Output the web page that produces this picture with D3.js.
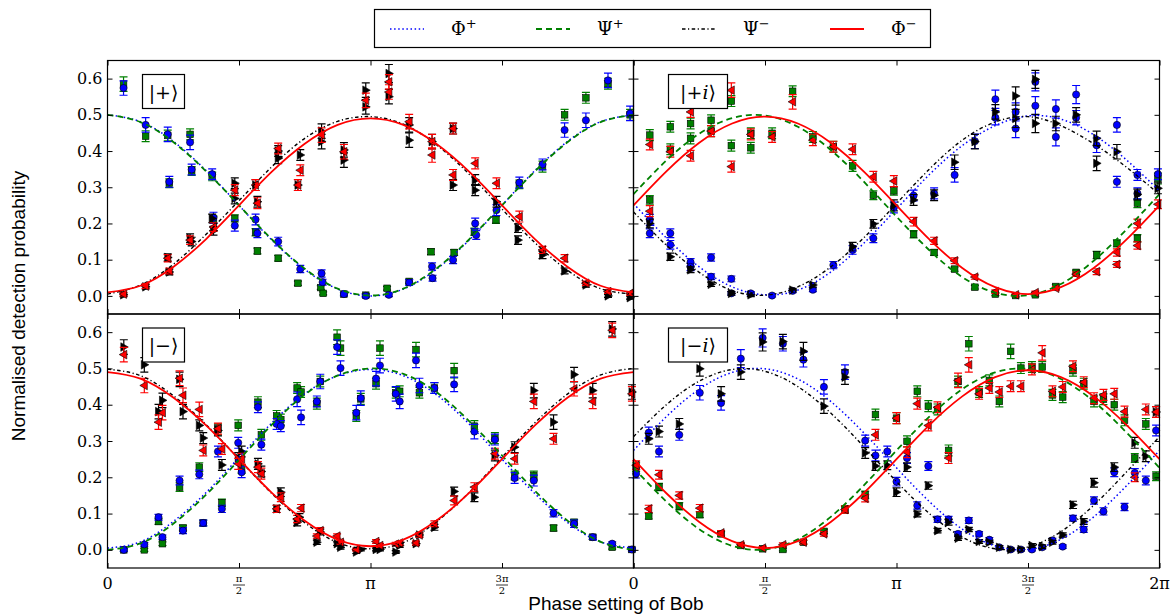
<!DOCTYPE html>
<html>
<head>
<meta charset="utf-8">
<script src="https://cdn.jsdelivr.net/npm/d3@7"></script>
<style>
  body { margin: 0; background: #fff; }
  text { fill: #000; }
</style>
</head>
<body>
<svg id="chart" width="1173" height="614"></svg>
<script>
"use strict";

//
/* Data (phase in units of pi, probability, error): */
//

var yTicks = [0.0, 0.1, 0.2, 0.3, 0.4, 0.5, 0.6];
var xTicks = [0, 0.5, 1, 1.5, 2];
var xTickLabels = ["0", "π/2", "π", "3π/2", "2π"];
var curvePhases = [0, 0.125, 0.25, 0.375, 0.5, 0.625, 0.75, 0.875, 1, 1.125, 1.25, 1.375, 1.5, 1.625, 1.75, 1.875, 2];

var seriesNames = ["Φ+", "Ψ+", "Ψ−", "Φ−"];
var panelStates = ["+", "+i", "−", "−i"];

// |+> panel
var plusPhiP = [[0.061,0.574,0.02],[0.145,0.472,0.02],[0.229,0.446,0.02],[0.235,0.315,0.015],[0.314,0.424,0.02],[0.320,0.349,0.015],[0.398,0.336,0.015],[0.403,0.216,0.015],[0.484,0.194,0.015],[0.563,0.211,0.015],[0.570,0.173,0.012],[0.649,0.150,0.012],[0.733,0.074,0.01],[0.814,0.062,0.01],[0.818,0.038,0.008],[0.899,0.005,0.005],[0.982,0.0,0.004],[1.07,0.003,0.005],[1.147,0.037,0.008],[1.234,0.081,0.01],[1.236,0.049,0.008],[1.314,0.099,0.01],[1.398,0.200,0.015],[1.402,0.168,0.012],[1.479,0.237,0.015],[1.566,0.313,0.015],[1.654,0.363,0.015],[1.738,0.458,0.02],[1.819,0.485,0.02],[1.903,0.595,0.02],[1.987,0.504,0.02]];
var plusPsiP = [[0.061,0.585,0.02],[0.145,0.441,0.015],[0.229,0.443,0.015],[0.235,0.311,0.012],[0.314,0.446,0.015],[0.320,0.345,0.012],[0.398,0.33,0.012],[0.403,0.21,0.01],[0.484,0.214,0.01],[0.563,0.176,0.01],[0.570,0.124,0.008],[0.649,0.104,0.008],[0.724,0.035,0.006],[0.811,0.023,0.005],[0.82,0.007,0.004],[0.899,0.005,0.004],[0.982,0.002,0.004],[1.063,0.021,0.005],[1.147,0.040,0.006],[1.230,0.122,0.008],[1.318,0.12,0.008],[1.395,0.177,0.01],[1.477,0.21,0.01],[1.566,0.308,0.012],[1.654,0.357,0.015],[1.738,0.5,0.015],[1.819,0.547,0.015],[1.903,0.586,0.015],[1.987,0.5,0.015]];
var plusPsiM = [[0.061,0.003,0.005],[0.145,0.025,0.006],[0.229,0.106,0.01],[0.235,0.066,0.008],[0.314,0.159,0.012],[0.320,0.150,0.012],[0.398,0.214,0.012],[0.403,0.18,0.012],[0.484,0.311,0.015],[0.484,0.269,0.015],[0.563,0.306,0.015],[0.570,0.26,0.015],[0.649,0.4,0.015],[0.649,0.38,0.015],[0.733,0.389,0.015],[0.724,0.306,0.015],[0.814,0.455,0.02],[0.814,0.426,0.02],[0.899,0.403,0.02],[0.899,0.375,0.02],[0.982,0.568,0.02],[0.982,0.522,0.02],[1.07,0.614,0.025],[1.07,0.55,0.02],[1.147,0.472,0.02],[1.147,0.43,0.02],[1.234,0.426,0.02],[1.314,0.462,0.015],[1.314,0.306,0.015],[1.398,0.292,0.015],[1.398,0.32,0.015],[1.479,0.26,0.015],[1.561,0.154,0.012],[1.561,0.187,0.012],[1.654,0.113,0.01],[1.738,0.069,0.008],[1.819,0.03,0.006],[1.903,0.0,0.004],[1.987,-0.005,0.004]];
var plusPhiM = [[0.061,0.005,0.005],[0.145,0.027,0.006],[0.229,0.104,0.01],[0.235,0.069,0.008],[0.314,0.154,0.012],[0.403,0.19,0.012],[0.484,0.292,0.015],[0.563,0.306,0.015],[0.570,0.256,0.015],[0.649,0.407,0.015],[0.733,0.347,0.015],[0.724,0.306,0.015],[0.814,0.444,0.02],[0.899,0.398,0.02],[0.982,0.54,0.02],[1.07,0.591,0.02],[1.07,0.563,0.02],[1.147,0.481,0.02],[1.234,0.389,0.02],[1.234,0.426,0.02],[1.314,0.462,0.015],[1.314,0.334,0.015],[1.398,0.366,0.015],[1.479,0.311,0.015],[1.566,0.219,0.015],[1.654,0.127,0.01],[1.738,0.104,0.01],[1.819,0.035,0.006],[1.903,0.012,0.005],[1.987,0.007,0.005]];

// |+i> panel
var plusIPhiP = [[0.062,0.21,0.015],[0.062,0.173,0.012],[0.140,0.173,0.012],[0.140,0.141,0.012],[0.217,0.093,0.01],[0.217,0.08,0.01],[0.295,0.106,0.01],[0.295,0.053,0.008],[0.372,0.047,0.008],[0.372,0.007,0.005],[0.446,0.007,0.005],[0.527,0.001,0.004],[0.605,0.014,0.005],[0.682,0.017,0.005],[0.760,0.085,0.01],[0.833,0.127,0.012],[0.912,0.159,0.012],[0.990,0.244,0.015],[1.065,0.277,0.015],[1.143,0.283,0.015],[1.221,0.334,0.02],[1.298,0.427,0.02],[1.376,0.543,0.025],[1.376,0.492,0.02],[1.453,0.508,0.025],[1.453,0.462,0.025],[1.528,0.591,0.025],[1.528,0.525,0.025],[1.606,0.516,0.025],[1.606,0.439,0.025],[1.683,0.556,0.025],[1.683,0.492,0.02],[1.761,0.416,0.02],[1.838,0.472,0.02],[1.838,0.315,0.015],[1.916,0.334,0.015],[1.916,0.283,0.015],[1.994,0.336,0.015]];
var plusIPsiP = [[0.062,0.444,0.015],[0.062,0.265,0.012],[0.140,0.467,0.015],[0.140,0.405,0.015],[0.217,0.476,0.015],[0.217,0.435,0.015],[0.295,0.485,0.015],[0.295,0.455,0.015],[0.372,0.538,0.015],[0.372,0.415,0.015],[0.446,0.449,0.015],[0.446,0.409,0.015],[0.527,0.449,0.015],[0.605,0.565,0.015],[0.682,0.439,0.015],[0.760,0.412,0.015],[0.833,0.359,0.015],[0.912,0.278,0.012],[0.990,0.29,0.012],[1.065,0.17,0.01],[1.143,0.12,0.008],[1.221,0.074,0.006],[1.298,0.024,0.005],[1.376,0.005,0.004],[1.453,0.001,0.004],[1.528,0.003,0.004],[1.606,0.026,0.005],[1.683,0.065,0.006],[1.761,0.113,0.01],[1.838,0.145,0.01],[1.916,0.256,0.012],[1.916,0.159,0.01],[1.994,0.324,0.015]];
var plusIPsiM = [[0.062,0.2,0.012],[0.140,0.108,0.01],[0.217,0.072,0.008],[0.295,0.032,0.006],[0.372,0.007,0.005],[0.446,0.003,0.005],[0.605,0.016,0.005],[0.682,0.03,0.006],[0.833,0.136,0.012],[0.912,0.199,0.012],[0.990,0.25,0.015],[1.065,0.265,0.015],[1.143,0.278,0.015],[1.221,0.369,0.02],[1.298,0.426,0.02],[1.376,0.508,0.02],[1.453,0.552,0.025],[1.453,0.49,0.025],[1.528,0.598,0.025],[1.528,0.476,0.025],[1.606,0.476,0.02],[1.683,0.5,0.02],[1.761,0.366,0.02],[1.761,0.435,0.02],[1.838,0.398,0.02],[1.916,0.28,0.015],[1.994,0.297,0.015]];
var plusIPhiM = [[0.062,0.418,0.015],[0.062,0.234,0.015],[0.140,0.398,0.015],[0.217,0.508,0.015],[0.217,0.387,0.015],[0.295,0.455,0.015],[0.372,0.568,0.02],[0.372,0.357,0.015],[0.446,0.446,0.015],[0.527,0.439,0.015],[0.605,0.536,0.02],[0.682,0.43,0.015],[0.760,0.412,0.015],[0.833,0.405,0.015],[0.912,0.329,0.015],[0.990,0.317,0.015],[1.065,0.205,0.012],[1.143,0.152,0.01],[1.221,0.097,0.008],[1.298,0.052,0.006],[1.376,0.012,0.005],[1.453,0.003,0.004],[1.528,0.009,0.004],[1.606,0.021,0.005],[1.683,0.06,0.006],[1.761,0.067,0.008],[1.838,0.087,0.008],[1.838,0.12,0.01],[1.916,0.2,0.012],[1.916,0.139,0.01],[1.994,0.253,0.012]];

// |-> panel
var minusPhiP = [[0.062,0.0,0.004],[0.140,0.015,0.005],[0.194,0.09,0.008],[0.209,0.035,0.006],[0.274,0.191,0.012],[0.287,0.053,0.008],[0.349,0.208,0.012],[0.364,0.074,0.008],[0.420,0.271,0.015],[0.435,0.113,0.01],[0.497,0.295,0.015],[0.510,0.214,0.015],[0.572,0.393,0.015],[0.585,0.29,0.015],[0.643,0.347,0.015],[0.659,0.341,0.015],[0.721,0.415,0.02],[0.736,0.365,0.02],[0.796,0.409,0.015],[0.809,0.464,0.02],[0.873,0.559,0.02],[0.886,0.501,0.02],[0.946,0.378,0.02],[0.963,0.418,0.02],[1.021,0.472,0.02],[1.036,0.508,0.02],[1.096,0.43,0.02],[1.111,0.409,0.02],[1.173,0.522,0.02],[1.186,0.453,0.02],[1.243,0.446,0.015],[1.318,0.456,0.02],[1.395,0.326,0.02],[1.473,0.304,0.015],[1.548,0.198,0.015],[1.621,0.191,0.015],[1.696,0.101,0.01],[1.774,0.072,0.01],[1.845,0.035,0.006],[1.919,0.017,0.005],[1.994,0.001,0.004]];
var minusPsiP = [[0.062,0.0,0.004],[0.140,0.0,0.004],[0.194,0.078,0.008],[0.209,0.017,0.005],[0.274,0.173,0.012],[0.287,0.06,0.008],[0.349,0.228,0.012],[0.364,0.074,0.008],[0.420,0.332,0.015],[0.435,0.13,0.01],[0.497,0.343,0.015],[0.510,0.223,0.012],[0.572,0.407,0.015],[0.585,0.317,0.015],[0.643,0.369,0.015],[0.659,0.359,0.015],[0.721,0.446,0.015],[0.736,0.435,0.015],[0.796,0.403,0.015],[0.809,0.464,0.015],[0.873,0.586,0.02],[0.886,0.556,0.02],[0.946,0.369,0.015],[0.963,0.416,0.015],[1.021,0.458,0.015],[1.036,0.556,0.02],[1.096,0.433,0.015],[1.111,0.437,0.015],[1.173,0.552,0.02],[1.186,0.433,0.015],[1.243,0.446,0.015],[1.318,0.494,0.02],[1.395,0.341,0.015],[1.473,0.308,0.015],[1.548,0.205,0.012],[1.621,0.205,0.012],[1.696,0.06,0.008],[1.774,0.076,0.008],[1.845,0.035,0.006],[1.919,0.007,0.005],[1.994,0.001,0.004]];
var minusPsiM = [[0.062,0.559,0.02],[0.140,0.51,0.02],[0.194,0.381,0.02],[0.209,0.412,0.02],[0.274,0.47,0.02],[0.287,0.381,0.02],[0.349,0.343,0.015],[0.364,0.308,0.015],[0.420,0.329,0.015],[0.435,0.234,0.015],[0.497,0.253,0.015],[0.510,0.271,0.015],[0.572,0.237,0.015],[0.585,0.216,0.015],[0.643,0.113,0.01],[0.659,0.159,0.012],[0.721,0.076,0.01],[0.730,0.09,0.01],[0.796,0.021,0.006],[0.809,0.049,0.008],[0.873,0.017,0.005],[0.886,0.007,0.005],[0.946,-0.006,0.004],[0.963,0.001,0.004],[1.021,0.001,0.004],[1.036,0.001,0.004],[1.096,-0.006,0.004],[1.111,0.012,0.005],[1.173,0.017,0.005],[1.186,0.041,0.006],[1.243,0.062,0.008],[1.318,0.161,0.012],[1.395,0.145,0.012],[1.473,0.26,0.015],[1.548,0.283,0.015],[1.621,0.439,0.02],[1.696,0.352,0.02],[1.774,0.483,0.02],[1.845,0.439,0.02],[1.919,0.609,0.02],[1.994,0.435,0.02]];
var minusPhiM = [[0.062,0.538,0.02],[0.140,0.453,0.02],[0.194,0.352,0.02],[0.209,0.378,0.02],[0.274,0.473,0.02],[0.287,0.426,0.02],[0.349,0.387,0.02],[0.364,0.274,0.015],[0.420,0.334,0.015],[0.435,0.278,0.015],[0.497,0.237,0.015],[0.510,0.251,0.015],[0.572,0.228,0.015],[0.585,0.21,0.015],[0.643,0.113,0.01],[0.659,0.145,0.012],[0.721,0.085,0.01],[0.736,0.115,0.01],[0.796,0.038,0.006],[0.809,0.053,0.008],[0.873,0.038,0.006],[0.886,0.021,0.005],[0.946,0.001,0.004],[1.021,0.023,0.005],[1.036,0.012,0.005],[1.096,0.016,0.005],[1.111,0.019,0.005],[1.173,0.019,0.005],[1.186,0.041,0.006],[1.243,0.072,0.008],[1.318,0.136,0.012],[1.395,0.173,0.012],[1.473,0.265,0.015],[1.548,0.251,0.015],[1.621,0.409,0.02],[1.696,0.306,0.015],[1.774,0.444,0.02],[1.845,0.409,0.02],[1.919,0.605,0.02],[1.994,0.43,0.02]];

// |-i> panel
var minusIPhiP = [[0.010,0.21,0.012],[0.058,0.323,0.015],[0.097,0.271,0.015],[0.174,0.317,0.015],[0.252,0.433,0.02],[0.333,0.405,0.02],[0.408,0.527,0.025],[0.491,0.584,0.025],[0.568,0.568,0.02],[0.646,0.524,0.02],[0.724,0.449,0.02],[0.804,0.49,0.02],[0.881,0.301,0.015],[0.920,0.26,0.015],[0.965,0.271,0.015],[1.0,0.188,0.012],[1.040,0.253,0.015],[1.079,0.122,0.01],[1.121,0.231,0.012],[1.156,0.084,0.008],[1.198,0.084,0.008],[1.234,0.044,0.006],[1.275,0.081,0.008],[1.314,0.044,0.006],[1.353,0.028,0.006],[1.391,0.007,0.005],[1.434,0.001,0.004],[1.473,0.001,0.004],[1.515,0.001,0.004],[1.554,0.007,0.005],[1.593,0.026,0.006],[1.632,0.009,0.005],[1.671,0.087,0.008],[1.712,0.056,0.008],[1.751,0.136,0.01],[1.787,0.106,0.01],[1.828,0.214,0.012],[1.867,0.118,0.01],[1.906,0.212,0.012],[1.948,0.191,0.012],[1.987,0.329,0.015]];
var minusIPsiP = [[0.010,0.228,0.012],[0.058,0.093,0.008],[0.097,0.173,0.01],[0.174,0.12,0.01],[0.252,0.097,0.008],[0.333,0.044,0.006],[0.408,0.012,0.005],[0.491,0.003,0.004],[0.568,0.001,0.004],[0.646,0.021,0.005],[0.724,0.051,0.006],[0.804,0.111,0.01],[0.881,0.152,0.01],[0.920,0.373,0.015],[1.0,0.363,0.015],[1.040,0.299,0.015],[1.079,0.437,0.015],[1.121,0.396,0.015],[1.156,0.387,0.015],[1.198,0.274,0.015],[1.234,0.464,0.015],[1.275,0.568,0.02],[1.314,0.435,0.015],[1.353,0.467,0.015],[1.391,0.409,0.015],[1.434,0.547,0.02],[1.473,0.501,0.015],[1.515,0.504,0.015],[1.554,0.504,0.015],[1.593,0.427,0.015],[1.632,0.421,0.015],[1.671,0.494,0.015],[1.712,0.458,0.015],[1.751,0.409,0.015],[1.787,0.415,0.015],[1.828,0.4,0.015],[1.867,0.357,0.015],[1.906,0.253,0.012],[1.948,0.347,0.015],[1.987,0.203,0.012]];
var minusIPsiM = [[0.058,0.306,0.015],[0.097,0.326,0.015],[0.174,0.347,0.015],[0.252,0.499,0.02],[0.333,0.43,0.02],[0.408,0.49,0.02],[0.491,0.573,0.025],[0.568,0.574,0.02],[0.646,0.547,0.025],[0.724,0.396,0.02],[0.804,0.476,0.02],[0.881,0.267,0.015],[0.920,0.231,0.012],[0.965,0.233,0.012],[1.0,0.159,0.012],[1.040,0.228,0.012],[1.079,0.099,0.008],[1.121,0.177,0.01],[1.156,0.053,0.006],[1.198,0.076,0.008],[1.234,0.032,0.006],[1.275,0.056,0.006],[1.314,0.023,0.005],[1.353,0.021,0.005],[1.391,0.007,0.005],[1.434,0.001,0.004],[1.473,0.001,0.004],[1.515,0.012,0.005],[1.554,0.009,0.005],[1.593,0.021,0.005],[1.632,0.041,0.006],[1.671,0.124,0.01],[1.712,0.078,0.008],[1.751,0.185,0.012],[1.828,0.228,0.012],[1.906,0.295,0.015],[1.948,0.258,0.015],[1.987,0.38,0.015]];
var minusIPhiM = [[0.010,0.233,0.012],[0.058,0.113,0.01],[0.097,0.207,0.012],[0.174,0.15,0.01],[0.252,0.115,0.01],[0.333,0.047,0.006],[0.408,0.014,0.005],[0.491,0.005,0.004],[0.568,0.014,0.005],[0.646,0.021,0.005],[0.724,0.044,0.006],[0.804,0.111,0.01],[0.881,0.142,0.01],[0.920,0.317,0.015],[1.0,0.363,0.015],[1.040,0.269,0.015],[1.079,0.403,0.015],[1.121,0.343,0.015],[1.156,0.393,0.015],[1.198,0.253,0.015],[1.234,0.467,0.02],[1.275,0.51,0.02],[1.314,0.43,0.015],[1.353,0.446,0.015],[1.391,0.435,0.015],[1.434,0.451,0.015],[1.473,0.451,0.015],[1.515,0.497,0.015],[1.554,0.543,0.02],[1.593,0.437,0.015],[1.632,0.449,0.015],[1.671,0.506,0.015],[1.712,0.462,0.015],[1.751,0.418,0.015],[1.787,0.427,0.015],[1.828,0.43,0.015],[1.867,0.381,0.015],[1.906,0.2,0.012],[1.948,0.387,0.015],[1.987,0.38,0.015]];

// Fitted curves, read at the phases in curvePhases
var plusFitPhiP  = [0.5, 0.481, 0.427, 0.346, 0.25, 0.154, 0.073, 0.019, 0.0, 0.019, 0.073, 0.154, 0.25, 0.346, 0.427, 0.481, 0.5];
var plusFitPsiP  = [0.5, 0.48, 0.425, 0.344, 0.25, 0.156, 0.075, 0.02, 0.001, 0.02, 0.075, 0.156, 0.25, 0.344, 0.425, 0.48, 0.5];
var plusFitPsiM  = [0.005, 0.03, 0.087, 0.17, 0.263, 0.357, 0.435, 0.482, 0.495, 0.474, 0.418, 0.336, 0.24, 0.147, 0.07, 0.02, 0.005];
var plusFitPhiM  = [0.01, 0.028, 0.08, 0.157, 0.25, 0.343, 0.42, 0.472, 0.49, 0.472, 0.42, 0.343, 0.25, 0.157, 0.08, 0.028, 0.01];

var plusIFitPhiP = [0.255, 0.16, 0.08, 0.025, 0.003, 0.016, 0.066, 0.145, 0.24, 0.335, 0.415, 0.47, 0.497, 0.488, 0.445, 0.375, 0.29];
var plusIFitPsiP = [0.281, 0.374, 0.448, 0.491, 0.498, 0.467, 0.403, 0.316, 0.219, 0.126, 0.052, 0.009, 0.002, 0.033, 0.097, 0.184, 0.281];
var plusIFitPsiM = [0.232, 0.14, 0.065, 0.015, 0.002, 0.025, 0.08, 0.16, 0.255, 0.35, 0.43, 0.48, 0.495, 0.47, 0.42, 0.355, 0.28];
var plusIFitPhiM = [0.25, 0.344, 0.423, 0.476, 0.495, 0.476, 0.423, 0.344, 0.25, 0.156, 0.077, 0.024, 0.005, 0.024, 0.077, 0.156, 0.25];

var minusFitPhiP = [0.005, 0.022, 0.078, 0.158, 0.255, 0.35, 0.43, 0.48, 0.497, 0.48, 0.428, 0.347, 0.25, 0.155, 0.075, 0.022, 0.005];
var minusFitPsiP = [0.0, 0.018, 0.072, 0.152, 0.248, 0.345, 0.428, 0.48, 0.5, 0.485, 0.435, 0.355, 0.26, 0.163, 0.08, 0.022, 0.0];
var minusFitPsiM = [0.498, 0.48, 0.425, 0.345, 0.25, 0.155, 0.075, 0.02, 0.003, 0.02, 0.077, 0.158, 0.255, 0.35, 0.43, 0.482, 0.5];
var minusFitPhiM = [0.49, 0.472, 0.42, 0.343, 0.25, 0.157, 0.08, 0.028, 0.01, 0.028, 0.08, 0.157, 0.25, 0.343, 0.42, 0.472, 0.49];

var minusIFitPhiP = [0.274, 0.367, 0.443, 0.489, 0.499, 0.471, 0.409, 0.323, 0.226, 0.133, 0.057, 0.011, 0.001, 0.029, 0.091, 0.177, 0.274];
var minusIFitPsiP = [0.226, 0.133, 0.057, 0.011, 0.001, 0.029, 0.091, 0.177, 0.274, 0.367, 0.443, 0.489, 0.499, 0.471, 0.409, 0.323, 0.226];
var minusIFitPsiM = [0.312, 0.4, 0.465, 0.497, 0.492, 0.45, 0.377, 0.285, 0.188, 0.1, 0.035, 0.003, 0.008, 0.05, 0.123, 0.215, 0.312];
var minusIFitPhiM = [0.25, 0.156, 0.077, 0.024, 0.005, 0.024, 0.077, 0.156, 0.25, 0.344, 0.423, 0.476, 0.495, 0.476, 0.423, 0.344, 0.25];


//
/* Layout: */
//

var svg = d3.select("#chart");

var colLeft  = [107.5, 633.5];
var colRight = [633.5, 1159.5];
var rowTop   = [60.5, 314];
var rowBot   = [314, 568];

var styles = [
    { color: "#0000ff", dash: "1.5,2.6", width: 1.5, marker: "circle" },
    { color: "#008000", dash: "6,4",     width: 1.8, marker: "square" },
    { color: "#000000", dash: "3.5,2.5,1.2,2.5", width: 1.4, marker: "right" },
    { color: "#ff0000", dash: null,      width: 1.8, marker: "left" }
];

var panels = [
    { state: panelStates[0], col: 0, row: 0, points: [plusPhiP, plusPsiP, plusPsiM, plusPhiM],
      fits: [plusFitPhiP, plusFitPsiP, plusFitPsiM, plusFitPhiM] },
    { state: panelStates[1], col: 1, row: 0, points: [plusIPhiP, plusIPsiP, plusIPsiM, plusIPhiM],
      fits: [plusIFitPhiP, plusIFitPsiP, plusIFitPsiM, plusIFitPhiM] },
    { state: panelStates[2], col: 0, row: 1, points: [minusPhiP, minusPsiP, minusPsiM, minusPhiM],
      fits: [minusFitPhiP, minusFitPsiP, minusFitPsiM, minusFitPhiM] },
    { state: panelStates[3], col: 1, row: 1, points: [minusIPhiP, minusIPsiP, minusIPsiM, minusIPhiM],
      fits: [minusIFitPhiP, minusIFitPsiP, minusIFitPsiM, minusIFitPhiM] }
];

var drawOrder = [1, 0, 2, 3];

var markerPath = function(type, cx, cy)
{
    if (type == "right")
        return "M" + (cx + 4.5) + "," + cy + "L" + (cx - 3) + "," + (cy - 4.3) + "L" + (cx - 3) + "," + (cy + 4.3) + "Z";
    else
        return "M" + (cx - 4.5) + "," + cy + "L" + (cx + 3) + "," + (cy - 4.3) + "L" + (cx + 3) + "," + (cy + 4.3) + "Z";
}

var drawFraction = function(g, label)
{
    if (label.indexOf("/") < 0)
    {
        g.append("text").attr("y", 17).attr("text-anchor", "middle")
            .style("font-family", "DejaVu Serif, serif").style("font-size", "16px")
            .text(label);
        return;
    }
    var parts = label.split("/");
    g.append("text").attr("y", 10).attr("text-anchor", "middle")
        .style("font-family", "DejaVu Serif, serif").style("font-size", "10px")
        .text(parts[0]);
    g.append("line").attr("x1", -6).attr("x2", 6).attr("y1", 13).attr("y2", 13)
        .attr("stroke", "#000").attr("stroke-width", 0.8);
    g.append("text").attr("y", 22).attr("text-anchor", "middle")
        .style("font-family", "DejaVu Serif, serif").style("font-size", "10px")
        .text(parts[1]);
}

panels.forEach(function(p)
{
    var xr = p.col == 0 ? colLeft : colRight;
    var yr = p.row == 0 ? rowTop : rowBot;

    var x = d3.scaleLinear().domain([0, 2]).range(xr);
    var y = d3.scaleLinear().domain([-0.05, 0.65]).range([yr[1], yr[0]]);

    var g = svg.append("g").attr("class", "panel");

    // Data points with error bars
    drawOrder.forEach(function(s)
    {
        var st = styles[s];
        var pts = g.append("g").attr("class", "series-" + s);

        pts.selectAll(".err").data(p.points[s]).enter()
            .append("path").attr("class", "err")
            .attr("d", function(d) {
                var cx = x(d[0]), y0 = y(d[1] - d[2]), y1 = y(d[1] + d[2]);
                return "M" + cx + "," + y0 + "V" + y1 +
                       "M" + (cx - 4) + "," + y0 + "H" + (cx + 4) +
                       "M" + (cx - 4) + "," + y1 + "H" + (cx + 4);
            })
            .attr("fill", "none").attr("stroke", st.color).attr("stroke-width", 1.2);

        if (st.marker == "circle")
        {
            pts.selectAll(".mk").data(p.points[s]).enter().append("circle").attr("class", "mk")
                .attr("cx", function(d) { return x(d[0]); })
                .attr("cy", function(d) { return y(d[1]); })
                .attr("r", 3.6);
        }
        else if (st.marker == "square")
        {
            pts.selectAll(".mk").data(p.points[s]).enter().append("rect").attr("class", "mk")
                .attr("x", function(d) { return x(d[0]) - 3.3; })
                .attr("y", function(d) { return y(d[1]) - 3.3; })
                .attr("width", 6.6).attr("height", 6.6);
        }
        else
        {
            pts.selectAll(".mk").data(p.points[s]).enter().append("path").attr("class", "mk")
                .attr("d", function(d) { return markerPath(st.marker, x(d[0]), y(d[1])); });
        }
        pts.selectAll(".mk").attr("fill", st.color).attr("stroke", "#000").attr("stroke-width", 0.6);
    });

    // Fitted curves
    var line = d3.line()
        .x(function(d, i) { return x(curvePhases[i]); })
        .y(function(d) { return y(d); })
        .curve(d3.curveNatural);

    [0, 1, 2, 3].forEach(function(s)
    {
        var st = styles[s];
        g.append("path").datum(p.fits[s])
            .attr("d", line)
            .attr("fill", "none")
            .attr("stroke", st.color)
            .attr("stroke-width", st.width)
            .attr("stroke-dasharray", st.dash);
    });

    // Frame
    g.append("rect")
        .attr("x", xr[0]).attr("y", yr[0])
        .attr("width", xr[1] - xr[0]).attr("height", yr[1] - yr[0])
        .attr("fill", "none").attr("stroke", "#000").attr("stroke-width", 1.2);

    // Inward ticks on all sides
    var left = d3.axisLeft(y).tickValues(yTicks).tickSize(-5).tickPadding(5)
        .tickFormat(p.col == 0 ? d3.format(".1f") : "");
    var right = d3.axisRight(y).tickValues(yTicks).tickSize(-5).tickFormat("");
    var bottom = d3.axisBottom(x).tickValues(xTicks).tickSize(-5).tickFormat("");
    var top = d3.axisTop(x).tickValues(xTicks).tickSize(-5).tickFormat("");

    var axes = [
        g.append("g").attr("transform", "translate(" + xr[0] + ",0)").call(left),
        g.append("g").attr("transform", "translate(" + xr[1] + ",0)").call(right),
        g.append("g").attr("transform", "translate(0," + yr[1] + ")").call(bottom),
        g.append("g").attr("transform", "translate(0," + yr[0] + ")").call(top)
    ];
    axes.forEach(function(a)
    {
        a.select(".domain").remove();
        a.selectAll("line").attr("stroke", "#000").attr("stroke-width", 1);
        a.selectAll("text").style("font-family", "DejaVu Serif, serif").style("font-size", "16px").attr("fill", "#000");
    });

    // Phase labels under the bottom row
    if (p.row == 1)
    {
        xTicks.forEach(function(t, i)
        {
            if (p.col == 0 && t == 2) return;
            var lg = g.append("g").attr("transform", "translate(" + x(t) + "," + (yr[1] + 4) + ")");
            drawFraction(lg, xTickLabels[i]);
        });
    }

    // State label box
    var bx = xr[0] + 35;
    var bw = p.state.length > 1 ? 59 : 42;
    var lb = g.append("g").attr("transform", "translate(" + bx + "," + (yr[0] + 14) + ")");
    lb.append("rect").attr("width", bw).attr("height", 34)
        .attr("fill", "#fff").attr("stroke", "#000").attr("stroke-width", 1.2);
    var lt = lb.append("text").attr("x", bw / 2).attr("y", 24).attr("text-anchor", "middle")
        .style("font-family", "DejaVu Serif, serif").style("font-size", "19px")
        .attr("fill", "#555");
    lt.append("tspan").text("|" + p.state.charAt(0));
    if (p.state.length > 1) lt.append("tspan").style("font-style", "italic").text(p.state.charAt(1));
    lt.append("tspan").text("⟩");
});

// Axis titles
svg.append("text")
    .attr("transform", "translate(25,306) rotate(-90)")
    .attr("text-anchor", "middle")
    .style("font-family", "Liberation Sans, Arial, sans-serif").style("font-size", "19px")
    .text("Normalised detection probability");

svg.append("text")
    .attr("x", 616).attr("y", 610)
    .attr("text-anchor", "middle")
    .style("font-family", "Liberation Sans, Arial, sans-serif").style("font-size", "19px")
    .text("Phase setting of Bob");

// Legend
var legend = svg.append("g").attr("class", "legend");
legend.append("rect").attr("x", 374.5).attr("y", 9.5).attr("width", 556).attr("height", 38)
    .attr("fill", "#fff").attr("stroke", "#000").attr("stroke-width", 1.2);

var legendX = [390, 536, 682, 830];
seriesNames.forEach(function(name, i)
{
    var st = styles[i];
    legend.append("line")
        .attr("x1", legendX[i]).attr("x2", legendX[i] + 34)
        .attr("y1", 29).attr("y2", 29)
        .attr("stroke", st.color).attr("stroke-width", st.width)
        .attr("stroke-dasharray", st.dash);
    var t = legend.append("text").attr("x", legendX[i] + 61).attr("y", 35)
        .style("font-family", "DejaVu Serif, serif").style("font-size", "18px");
    t.append("tspan").text(name.charAt(0));
    t.append("tspan").attr("dy", -7).style("font-size", "13px").text(name.charAt(1));
});
</script>
</body>
</html>
